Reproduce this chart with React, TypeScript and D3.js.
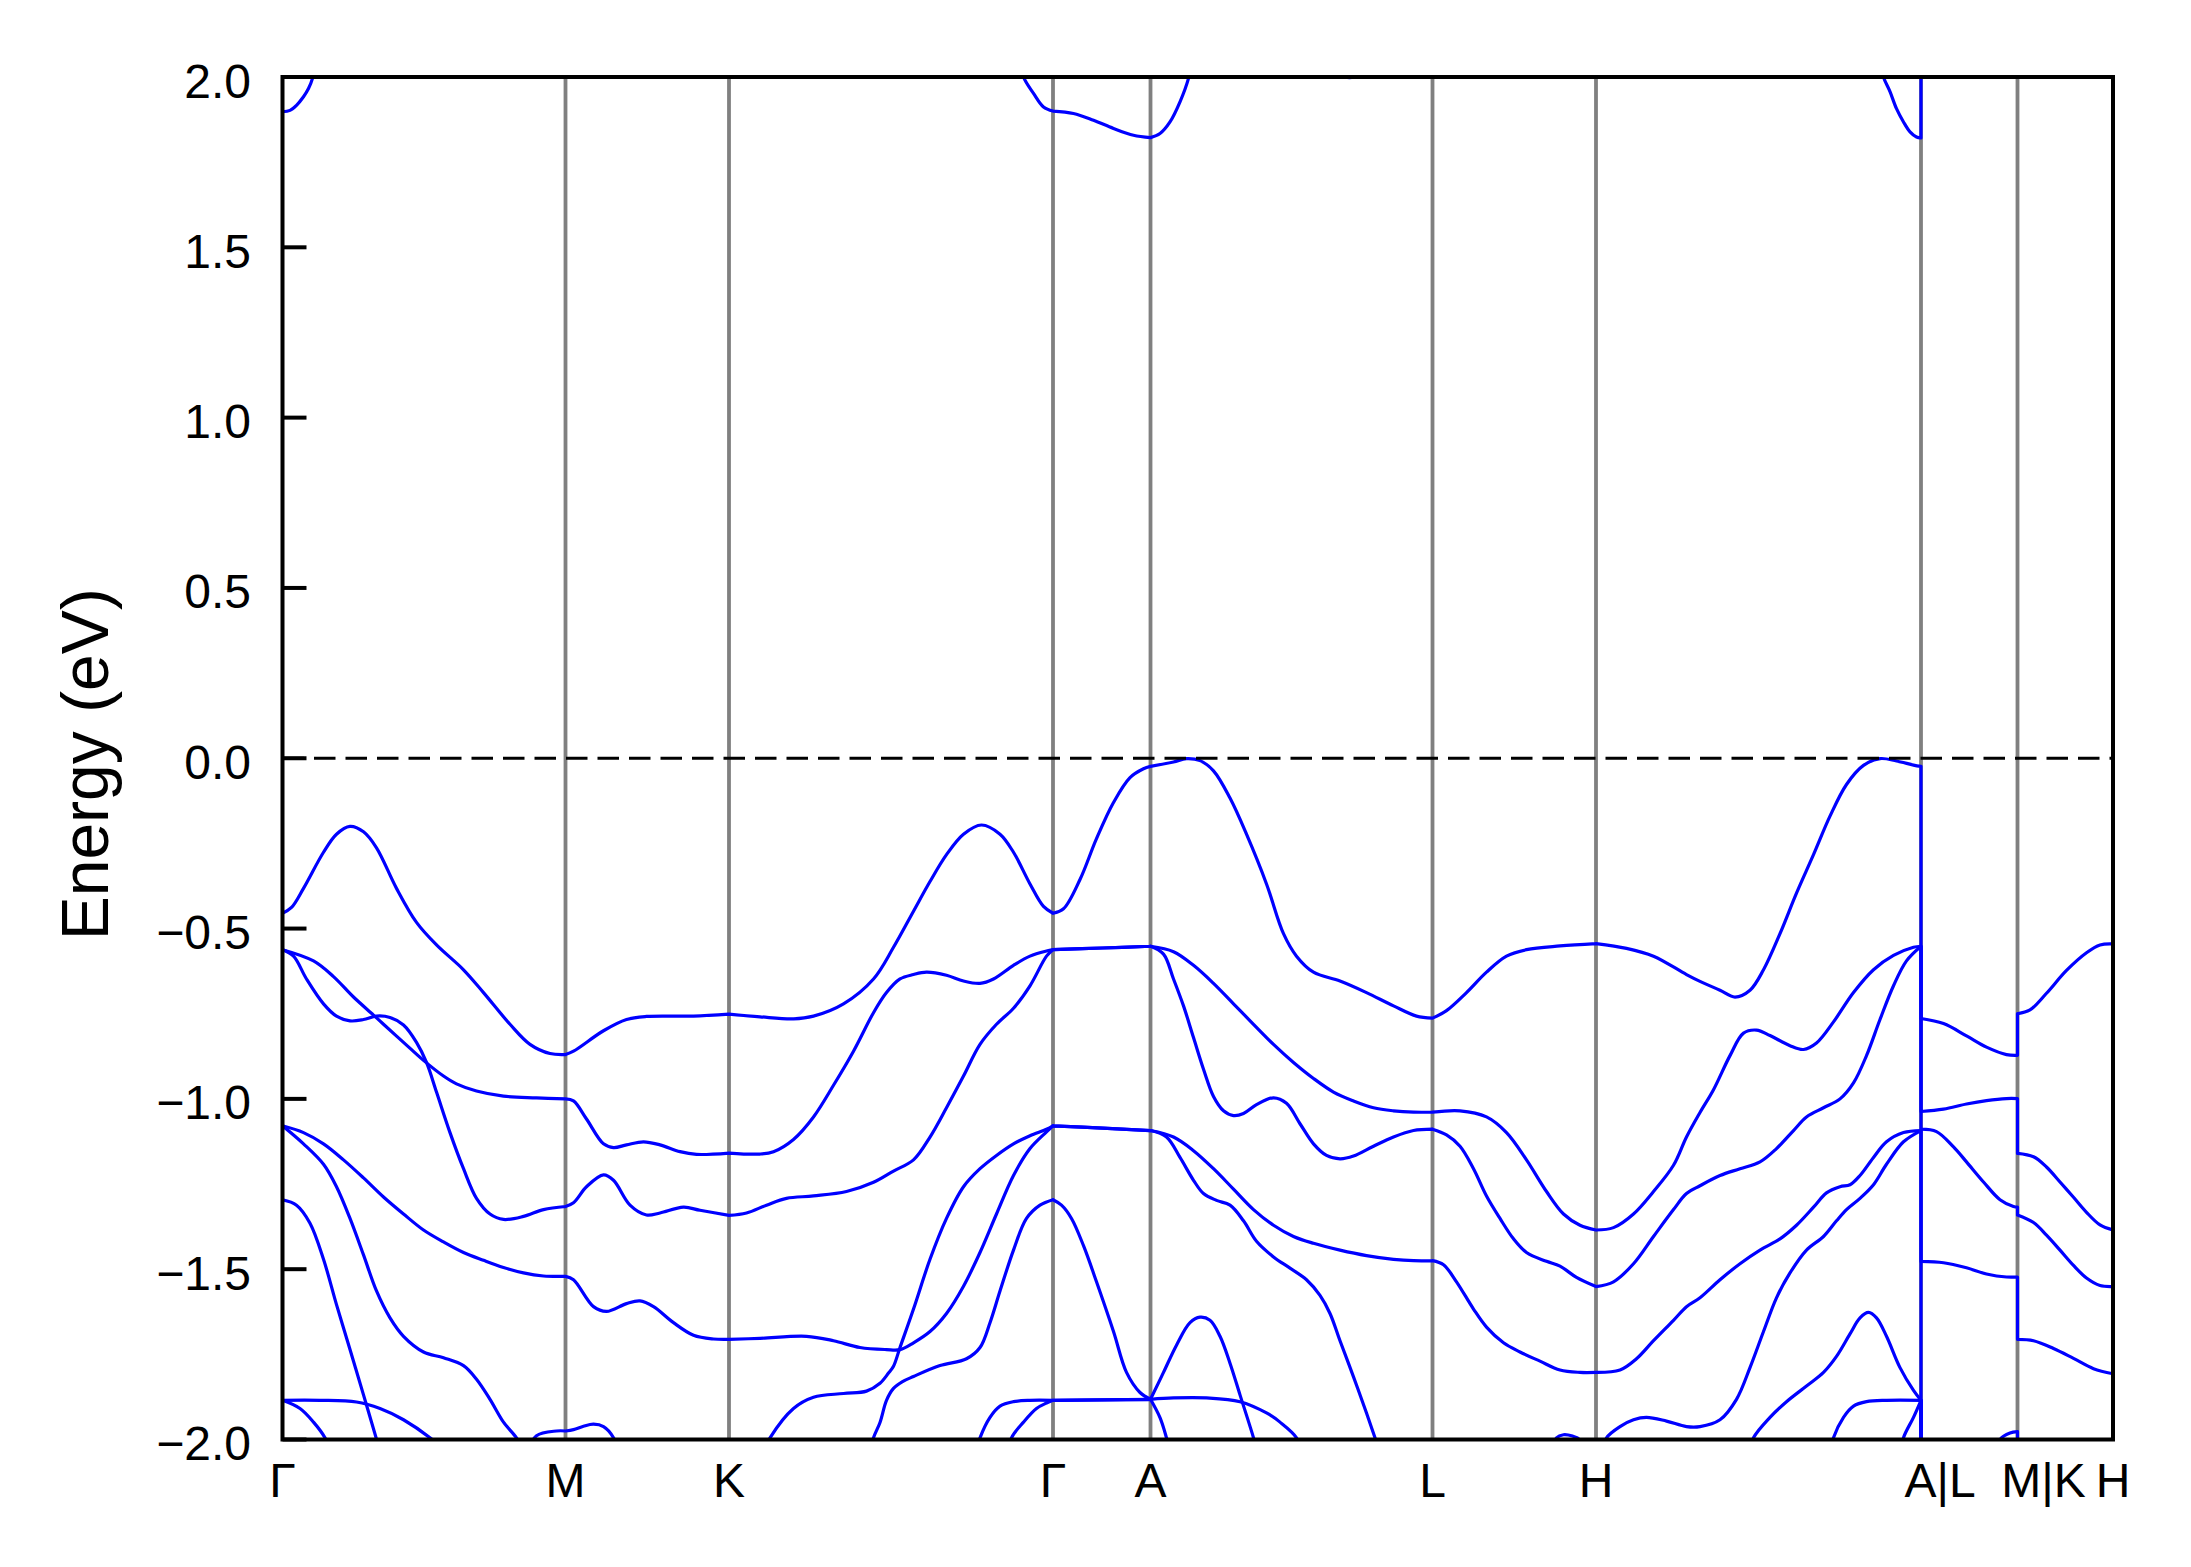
import React from 'react';
import * as d3 from 'd3';

type Pt = [number, number];

// k-path distance of the high-symmetry points and their labels
const kTicks = [0, 283, 446.5, 770.5, 868, 1150, 1313.5, 1638.5, 1735, 1830.5];
const kLabels = ['Γ', 'M', 'K', 'Γ', 'A', 'L', 'H', 'A|L', 'M|K', 'H'];
const yTicks = [-2, -1.5, -1, -0.5, 0, 0.5, 1, 1.5, 2];

// valence bands (k, E in eV); repeated k = discontinuity in the path
const vb1: Pt[] = [
  [0, -0.455], [9, -0.438], [21, -0.382], [41, -0.276], [54, -0.223], [67.5, -0.2], [81, -0.216], [94, -0.263], [114, -0.382], [134, -0.482], [154, -0.548], [181, -0.621], [201, -0.688], [227.5, -0.781], [247.5, -0.84], [267.5, -0.867], [283, -0.87],
  [291, -0.86], [321, -0.8], [344, -0.767], [364, -0.758], [411, -0.757], [446.5, -0.751],
  [477.5, -0.759], [511, -0.765], [531, -0.757], [561, -0.721], [591, -0.648], [611, -0.555], [631, -0.449], [647.5, -0.362], [664, -0.283], [681, -0.223], [699, -0.196], [717.5, -0.223], [731, -0.276], [747.5, -0.369], [761, -0.435], [770.5, -0.455],
  [781, -0.442], [797.5, -0.356], [814, -0.236], [831, -0.13], [847.5, -0.057], [861, -0.031], [868, -0.024],
  [891, -0.011], [904, -0.001], [917.5, -0.007], [931, -0.037], [947.5, -0.117], [964, -0.223], [984, -0.369], [1001, -0.515], [1014, -0.581], [1031, -0.628], [1057.5, -0.654], [1084, -0.688], [1111, -0.727], [1134, -0.757], [1150, -0.763],
  [1164, -0.741], [1184, -0.688], [1204, -0.628], [1224, -0.581], [1244, -0.562], [1277.5, -0.551], [1313.5, -0.544],
  [1344, -0.558], [1371, -0.581], [1404, -0.635], [1417.5, -0.655], [1437.5, -0.681], [1452.5, -0.701], [1467.5, -0.681], [1481, -0.621], [1497.5, -0.515], [1514, -0.396], [1531, -0.283], [1547.5, -0.17], [1564, -0.077], [1581, -0.021], [1597.5, -0.001], [1614, -0.008], [1631, -0.02], [1638.5, -0.024],
  [1638.5, -0.764], [1661, -0.779], [1684, -0.815], [1704, -0.848], [1724, -0.87], [1735, -0.872],
  [1735, -0.75], [1747.5, -0.739], [1764, -0.69], [1784, -0.623], [1804, -0.571], [1817.5, -0.548], [1830.5, -0.545],
];

const vb2: Pt[] = [
  [0, -0.562], [31, -0.595], [51, -0.641], [71, -0.701], [91, -0.754], [101, -0.781], [121, -0.834], [141, -0.887], [161, -0.933], [174, -0.956], [194, -0.977], [221, -0.992], [254, -0.997], [283, -1.0],
  [291, -1.006], [304, -1.059], [321, -1.132], [331, -1.143], [344, -1.135], [361, -1.126], [377.5, -1.135], [397.5, -1.155], [414, -1.163], [446.5, -1.159],
  [477.5, -1.162], [491, -1.155], [511, -1.119], [531, -1.053], [551, -0.96], [571, -0.86], [591, -0.747], [604, -0.688], [617.5, -0.648], [631, -0.635], [644, -0.628], [664, -0.637], [681, -0.654], [697.5, -0.661], [711, -0.648], [731, -0.608], [747.5, -0.581], [764, -0.566], [770.5, -0.562],
  [820, -0.557], [868, -0.552],
  [891, -0.568], [911, -0.608], [931, -0.661], [951, -0.721], [971, -0.781], [991, -0.84], [1011, -0.893], [1031, -0.94], [1051, -0.98], [1071, -1.006], [1091, -1.026], [1111, -1.035], [1131, -1.039], [1150, -1.039],
  [1177.5, -1.035], [1204, -1.053], [1224, -1.099], [1244, -1.179], [1264, -1.272], [1281, -1.338], [1297.5, -1.371], [1313.5, -1.385],
  [1331, -1.378], [1351, -1.338], [1371, -1.272], [1391, -1.195], [1404, -1.112], [1417.5, -1.04], [1431, -0.973], [1447.5, -0.873], [1461, -0.807], [1474, -0.798], [1487.5, -0.814], [1507.5, -0.844], [1521, -0.855], [1534, -0.836], [1551, -0.774], [1571, -0.688], [1591, -0.621], [1611, -0.579], [1631, -0.555], [1638.5, -0.552],
  [1638.5, -1.037], [1661, -1.03], [1684, -1.015], [1704, -1.005], [1724, -0.999], [1735, -0.999],
  [1735, -1.16], [1751, -1.17], [1764, -1.2], [1777.5, -1.244], [1791, -1.289], [1804, -1.333], [1817.5, -1.37], [1830.5, -1.385],
];

const vb3: Pt[] = [
  [0, -0.562], [11, -0.581], [24, -0.648], [41, -0.721], [54, -0.757], [67.5, -0.771], [81, -0.767], [94, -0.757], [107.5, -0.761], [121, -0.783], [134, -0.834], [144, -0.893], [154, -0.98], [167.5, -1.099], [181, -1.205], [194, -1.292], [207.5, -1.338], [221, -1.354], [241, -1.345], [261, -1.325], [283, -1.316],
  [291, -1.305], [304, -1.258], [321, -1.223], [331, -1.239], [347.5, -1.312], [364, -1.341], [377.5, -1.335], [401, -1.318], [417.5, -1.327], [446.5, -1.342],
  [464, -1.335], [484, -1.312], [504, -1.292], [531, -1.285], [564, -1.272], [591, -1.245], [611, -1.212], [631, -1.179], [647.5, -1.112], [664, -1.026], [681, -0.933], [697.5, -0.84], [714, -0.781], [731, -0.734], [747.5, -0.668], [764, -0.581], [770.5, -0.562],
  [820, -0.557], [868, -0.552],
  [881, -0.575], [891, -0.648], [901, -0.727], [911, -0.82], [921, -0.913], [931, -0.993], [941, -1.035], [951, -1.049], [961, -1.043], [974, -1.017], [991, -0.997], [1004, -1.013], [1017.5, -1.073], [1031, -1.132], [1044, -1.166], [1057.5, -1.176], [1071, -1.168], [1091, -1.139], [1111, -1.112], [1131, -1.093], [1150, -1.089],
  [1164, -1.106], [1177.5, -1.139], [1191, -1.205], [1204, -1.285], [1217.5, -1.351], [1231, -1.411], [1244, -1.451], [1264, -1.477], [1277.5, -1.491], [1294, -1.524], [1313.5, -1.551],
  [1331, -1.537], [1351, -1.484], [1371, -1.404], [1391, -1.325], [1404, -1.278], [1417.5, -1.255], [1437.5, -1.225], [1457.5, -1.205], [1477.5, -1.185], [1494, -1.146], [1511, -1.093], [1524, -1.053], [1541, -1.026], [1557.5, -1.0], [1571, -0.953], [1584, -0.873], [1597.5, -0.767], [1611, -0.668], [1624, -0.595], [1638.5, -0.552],
  [1638.5, -1.089], [1654, -1.096], [1671, -1.141], [1684, -1.185], [1701, -1.244], [1717.5, -1.296], [1731, -1.316], [1735, -1.318],
  [1735, -1.341], [1751, -1.363], [1764, -1.4], [1777.5, -1.444], [1791, -1.489], [1804, -1.526], [1817.5, -1.548], [1830.5, -1.551],
];

const vb4: Pt[] = [
  [0, -1.079], [21, -1.099], [41, -1.132], [61, -1.179], [81, -1.232], [101, -1.288], [121, -1.338], [141, -1.385], [161, -1.42], [181, -1.451], [201, -1.474], [221, -1.495], [241, -1.511], [261, -1.52], [283, -1.521],
  [291, -1.531], [311, -1.61], [324, -1.624], [344, -1.601], [357.5, -1.593], [371, -1.61], [391, -1.657], [411, -1.694], [431, -1.705], [446.5, -1.706],
  [477.5, -1.703], [524, -1.697], [551, -1.71], [577.5, -1.73], [604, -1.736], [617.5, -1.736], [631, -1.716], [647.5, -1.683], [664, -1.63], [681, -1.55], [697.5, -1.451], [714, -1.338], [731, -1.225], [747.5, -1.146], [764, -1.097], [770.5, -1.079],
  [820, -1.086], [868, -1.093],
  [891, -1.112], [911, -1.152], [931, -1.205], [951, -1.265], [971, -1.325], [991, -1.371], [1011, -1.404], [1031, -1.424], [1057.5, -1.444], [1084, -1.46], [1111, -1.471], [1131, -1.475], [1150, -1.475],
  [1161, -1.487], [1174, -1.537], [1191, -1.617], [1204, -1.67], [1221, -1.716], [1237.5, -1.743], [1257.5, -1.77], [1277.5, -1.796], [1297.5, -1.803], [1313.5, -1.803],
  [1337.5, -1.796], [1354, -1.763], [1371, -1.71], [1391, -1.65], [1404, -1.61], [1417.5, -1.584], [1437.5, -1.531], [1457.5, -1.484], [1477.5, -1.444], [1497.5, -1.411], [1514, -1.371], [1531, -1.318], [1544, -1.276], [1557.5, -1.258], [1567.5, -1.252], [1577.5, -1.225], [1591, -1.172], [1604, -1.126], [1621, -1.099], [1638.5, -1.093],
  [1638.5, -1.477], [1661, -1.481], [1684, -1.496], [1704, -1.514], [1724, -1.523], [1735, -1.523],
  [1735, -1.706], [1751, -1.71], [1771, -1.733], [1791, -1.762], [1811, -1.792], [1830.5, -1.807],
];

const vb5: Pt[] = [
  [0, -1.079], [21, -1.132], [41, -1.192], [54, -1.258], [67.5, -1.351], [81, -1.458], [94, -1.564], [107.5, -1.643], [121, -1.697], [141, -1.743], [161, -1.76], [181, -1.783], [194, -1.823], [207.5, -1.882], [221, -1.949], [234, -1.995], [241, -2.03],
];

const vb6: Pt[] = [
  [0, -1.296], [14, -1.312], [27.5, -1.365], [41, -1.471], [54, -1.604], [67.5, -1.736], [81, -1.869], [94, -1.999], [98, -2.04],
];

const vb7: Pt[] = [
  [0, -1.885], [37.5, -1.885], [74, -1.89], [97.5, -1.909], [121, -1.942], [147.5, -1.995], [154, -2.012], [160, -2.03],
];

const vb8: Pt[] = [
  [0, -1.885], [17.5, -1.909], [31, -1.949], [42.5, -1.995], [46, -2.02], [49, -2.04],
];

const vb9: Pt[] = [
  [480, -2.04], [487.5, -1.995], [511, -1.909], [531, -1.876], [561, -1.865], [584, -1.858], [597.5, -1.835], [606, -1.805], [611, -1.785], [617.5, -1.73], [631, -1.617], [647.5, -1.471], [664, -1.351], [681, -1.258], [697.5, -1.205], [714, -1.166], [731, -1.132], [747.5, -1.108], [764, -1.089], [770.5, -1.079],
  [820, -1.086], [868, -1.093],
  [884, -1.112], [897.5, -1.172], [911, -1.239], [921, -1.278], [934, -1.298], [947.5, -1.312], [961, -1.358], [974, -1.418], [991, -1.464], [1007.5, -1.497], [1024, -1.531], [1037.5, -1.577], [1047.5, -1.63], [1057.5, -1.71], [1071, -1.816], [1084, -1.922], [1092.5, -1.995], [1097.5, -2.04],
];

const vb10: Pt[] = [
  [587, -2.04], [591, -1.995], [597.5, -1.95], [604, -1.885], [611, -1.85], [620, -1.83], [631, -1.815], [657.5, -1.783], [684, -1.763], [697.5, -1.73], [707.5, -1.657], [717.5, -1.564], [731, -1.444], [744, -1.351], [757.5, -1.312], [770.5, -1.296],
  [779, -1.312], [789, -1.351], [801, -1.431], [814, -1.537], [831, -1.683], [844, -1.803], [857.5, -1.862], [868, -1.882],
  [881, -1.803], [894, -1.723], [907.5, -1.657], [917.5, -1.641], [927.5, -1.65], [937.5, -1.697], [947.5, -1.776], [957.5, -1.869], [971, -1.995], [975, -2.04],
];

const vb11: Pt[] = [
  [693, -2.04], [697.5, -1.995], [707.5, -1.935], [717.5, -1.902], [731, -1.889], [747.5, -1.885], [770.5, -1.885],
  [868, -1.882],
  [891, -1.878], [924, -1.878], [957.5, -1.889], [984, -1.922], [997.5, -1.949], [1014, -1.995], [1019, -2.04],
];

const vb12: Pt[] = [
  [726, -2.04], [729, -1.995], [741, -1.949], [754, -1.909], [764, -1.893], [770.5, -1.885],
  [868, -1.882],
  [877.5, -1.936], [884, -1.995], [888, -2.04],
];

const vbNearM: Pt[] = [
  [245, -2.04], [254, -1.989], [274, -1.975], [283, -1.975], [291, -1.971], [301, -1.961], [311, -1.955], [321, -1.962], [331, -1.995], [335, -2.04],
];

const vbNearM2: Pt[] = [
  [1713, -2.04], [1717.5, -2.0], [1727.5, -1.981], [1735, -1.977], [1735, -2.3],
];

const vbBlipLH: Pt[] = [
  [1268, -2.04], [1274, -1.995], [1281, -1.986], [1290, -1.99], [1297, -2.0], [1300, -2.04],
];

const vb14: Pt[] = [
  [1319, -2.04], [1324, -1.995], [1337.5, -1.962], [1351, -1.942], [1364, -1.935], [1384, -1.946], [1404, -1.962], [1417.5, -1.962], [1437.5, -1.942], [1454, -1.882], [1467.5, -1.789], [1481, -1.683], [1494, -1.584], [1507.5, -1.511], [1524, -1.444], [1541, -1.404], [1554, -1.358], [1564, -1.325], [1577.5, -1.292], [1591, -1.252], [1604, -1.192], [1621, -1.126], [1638.5, -1.093],
  [1638.5, -2.3],
];

const vb15: Pt[] = [
  [1467, -2.04], [1471, -1.995], [1487.5, -1.935], [1504, -1.889], [1524, -1.843], [1541, -1.803], [1554, -1.756], [1567.5, -1.69], [1577.5, -1.643], [1586, -1.627], [1594, -1.643], [1604, -1.697], [1617.5, -1.789], [1631, -1.856], [1638.5, -1.885],
  [1638.5, -2.3],
];

const vb16: Pt[] = [
  [1548, -2.04], [1551, -1.995], [1561, -1.935], [1571, -1.902], [1584, -1.889], [1604, -1.885], [1638.5, -1.885],
  [1638.5, -2.3],
];

const vb17: Pt[] = [
  [1619, -2.04], [1621, -1.995], [1631, -1.935], [1638.5, -1.885],
  [1638.5, -2.3],
];

// conduction bands
const cb1: Pt[] = [
  [0, 1.898], [7.5, 1.902], [14, 1.917], [21, 1.942], [26, 1.966], [30, 1.996], [33, 2.04],
];

const cb2: Pt[] = [
  [738, 2.05], [741, 2.0], [751, 1.952], [761, 1.912], [770.5, 1.9],
  [791, 1.893], [811, 1.873], [831, 1.849], [851, 1.829], [868, 1.822],
  [877.5, 1.834], [887.5, 1.868], [897.5, 1.927], [906, 1.996], [909, 2.04],
];

const cb3: Pt[] = [
  [1045, 2.03], [1057, 2.005], [1067, 1.998], [1077, 2.005], [1089, 2.03],
];

const cb4: Pt[] = [
  [1598, 2.05], [1601, 2.0], [1607.5, 1.957], [1614, 1.907], [1621, 1.868], [1627.5, 1.839], [1634, 1.824], [1638.5, 1.821],
  [1638.5, 2.3],
];

const bands: Pt[][] = [
  vb1, vb2, vb3, vb4, vb5, vb6, vb7, vb8, vb9, vb10, vb11, vb12,
  vbNearM, vbNearM2, vbBlipLH, vb14, vb15, vb16, vb17,
  cb1, cb2, cb3, cb4,
];

const W = 2191;
const H = 1567;
const M = { left: 282.5, right: 2113, top: 77, bottom: 1439.5 };
const FONT = '"Liberation Sans", Arial, Helvetica, sans-serif';
const labelShift: Record<string, number> = { 'A|L': 19, 'M|K': 26 };

export default function App() {
  const x = d3.scaleLinear().domain([kTicks[0], kTicks[kTicks.length - 1]]).range([M.left, M.right]);
  const y = d3.scaleLinear().domain([-2, 2]).range([M.bottom, M.top]);

  const isSym = (k: number) => kTicks.some((t) => Math.abs(t - k) < 1e-6);

  const bandPath = (pts: Pt[]): string => {
    const pieces: { pts: Pt[]; jump: boolean }[] = [];
    let cur: Pt[] = [pts[0]];
    for (let i = 1; i < pts.length; i++) {
      const p = pts[i];
      const prev = pts[i - 1];
      if (p[0] === prev[0]) {
        if (cur.length > 1) pieces.push({ pts: cur, jump: false });
        pieces.push({ pts: [prev, p], jump: true });
        cur = [p];
        continue;
      }
      cur.push(p);
      if (isSym(p[0])) {
        pieces.push({ pts: cur, jump: false });
        cur = [p];
      }
    }
    if (cur.length > 1) pieces.push({ pts: cur, jump: false });
    return pieces
      .map((pc) =>
        d3
          .line<Pt>()
          .x((d) => x(d[0]))
          .y((d) => y(d[1]))
          .curve(pc.jump || pc.pts.length < 3 ? d3.curveLinear : d3.curveCatmullRom.alpha(0.5))(pc.pts) || ''
      )
      .join('');
  };

  const fmt = (v: number) => v.toFixed(1).replace('-', '\u2212');

  return (
    <svg
      width={W}
      height={H}
      viewBox={`0 0 ${W} ${H}`}
      style={{ position: 'absolute', left: 0, top: 0, background: '#fff' }}
    >
      <rect x={0} y={0} width={W} height={H} fill="#fff" />
      <defs>
        <clipPath id="plotClip">
          <rect x={M.left} y={M.top} width={M.right - M.left} height={M.bottom - M.top} />
        </clipPath>
      </defs>

      {/* high-symmetry vertical lines */}
      {kTicks.slice(1, -1).map((k, i) => (
        <line key={'v' + i} x1={x(k)} x2={x(k)} y1={M.top} y2={M.bottom} stroke="#808080" strokeWidth={3.8} />
      ))}

      {/* bands */}
      <g clipPath="url(#plotClip)">
        {bands.map((b, i) => (
          <path
            key={'b' + i}
            d={bandPath(b)}
            fill="none"
            stroke="#0000ff"
            strokeWidth={3.2}
            strokeLinejoin="round"
            strokeLinecap="round"
          />
        ))}
      </g>

      {/* Fermi level */}
      <line
        x1={M.left}
        x2={M.right}
        y1={y(0)}
        y2={y(0)}
        stroke="#000"
        strokeWidth={3.2}
        strokeDasharray="21.5 10"
      />

      {/* frame */}
      <rect
        x={M.left}
        y={M.top}
        width={M.right - M.left}
        height={M.bottom - M.top}
        fill="none"
        stroke="#000"
        strokeWidth={4}
      />

      {/* y ticks */}
      {yTicks.map((v, i) => (
        <g key={'yt' + i}>
          <line x1={M.left} x2={M.left + 24} y1={y(v)} y2={y(v)} stroke="#000" strokeWidth={4} />
          <text
            x={251}
            y={y(v) + 4}
            textAnchor="end"
            dominantBaseline="central"
            fontFamily={FONT}
            fontSize={48}
            fill="#000"
          >
            {fmt(v)}
          </text>
        </g>
      ))}

      {/* x labels */}
      {kTicks.map((k, i) => (
        <text
          key={'xl' + i}
          x={x(k) + (labelShift[kLabels[i]] || 0)}
          y={1497}
          textAnchor="middle"
          fontFamily={FONT}
          fontSize={48}
          fill="#000"
        >
          {kLabels[i]}
        </text>
      ))}

      {/* y-axis label */}
      <text
        transform={`translate(107.5, ${(M.top + M.bottom) / 2 + 6}) rotate(-90)`}
        textAnchor="middle"
        fontFamily={FONT}
        fontSize={66}
        fill="#000"
      >
        Energy (eV)
      </text>
    </svg>
  );
}
